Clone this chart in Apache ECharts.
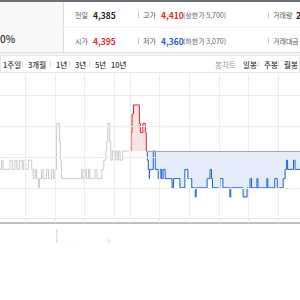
<!DOCTYPE html>
<html><head><meta charset="utf-8">
<script src="https://cdn.jsdelivr.net/npm/echarts@6/dist/echarts.min.js"></script>
<style>html,body{margin:0;padding:0;background:#fff}#c{width:300px;height:300px}</style>
</head><body><div id="c"></div>
<script>
// ---- data (minutes since 09:00; previous day 0..390, today starts at 392) ----
const prevTimes  = [129,132,135,149,154,159,163,168,174,177,181,186,193,196,200,203,207,209,213,216,223,227,233,237,240,243,244,249,251,253,294,297,301,304,308,311,321,325,335,339,343,345,347,351,353,356,360,363,366,369,372,377,390];
const prevPrices = [4375,4380,4375,4380,4375,4380,4375,4380,4375,4380,4375,4380,4375,4370,4375,4370,4365,4370,4375,4370,4375,4370,4375,4370,4375,4390,4400,4390,4380,4370,4375,4370,4375,4370,4375,4370,4375,4370,4375,4380,4385,4390,4400,4390,4380,4385,4380,4385,4380,4385,4380,4385,4385];
const todayTimes  = [392,394,396,399,411,413,418,423,425,427,429,431,432,439,443,449,453,456,459,463,477,480,493,503,509,517,524,526,548,554,557,559,574,580,594,596,621,629,635,638,649,651,669,671,685,690,702,706,709,711,723,726,736];
const todayPrices = [4385,4395,4405,4410,4400,4395,4400,4395,4385,4380,4375,4370,4375,4385,4375,4370,4375,4370,4375,4370,4365,4370,4365,4375,4370,4365,4360,4365,4370,4375,4370,4365,4370,4365,4360,4365,4360,4365,4370,4365,4370,4365,4370,4365,4370,4365,4370,4375,4380,4375,4380,4375,4375];
const prevClose = 4385;
const gridTimes  = [180,240,300,360,392,452,512,572,632,692];
const gridPrices = [4415,4398.3,4381.7,4365,4348.3];
const volTimes  = [244,274,349];
const volValues = [140,10,40];
// header texts
const row1 = {label1:'전일', val1:'4,385', label2:'고가', val2:'4,410', note2:'(상한가 5,700)', label3:'거래량', val3:'2'};
const row2 = {label1:'시가', val1:'4,395', label2:'저가', val2:'4,360', note2:'(하한가 3,070)', label3:'거래대금'};
const changeText = '0%';
const periodTabs = ['1주일','3개월','1년','3년','5년','10년'];
const chartTabs = ['일봉','주봉','월봉'];
const chartTabTitle = '봉차트';

const FONT = '"Noto Sans CJK KR", "Noto Sans", sans-serif';
const RED = '#e4262f', BLUE = '#1f5fd3';
const zip = (a,b)=>a.map((v,i)=>[v,b[i]]);
// split today's line where it first comes back to the previous close
const splitIdx = todayPrices.findIndex((p,i)=>i>0 && p<=prevClose);
const todayUp = zip(todayTimes,todayPrices).slice(0,splitIdx+1);
const todayDown = zip(todayTimes,todayPrices).slice(splitIdx);

const g = [];
function txt(x,y,s,o){g.push({type:'text',x:x,y:y,silent:true,style:Object.assign({text:s,font:'400 7px '+FONT,fill:'#555',textVerticalAlign:'middle',textAlign:'left'},o||{})});}
function rect(x,y,w,h,st){g.push({type:'rect',silent:true,shape:{x:x,y:y,width:w,height:h},style:st});}
function line(x1,y1,x2,y2,c){g.push({type:'line',silent:true,shape:{x1:x1,y1:y1,x2:x2,y2:y2},style:{stroke:c,lineWidth:1}});}

rect(0,0,300,2,{fill:'#6d7079'});
rect(0,2,63,50,{fill:'#f8f8f8'});
line(63.5,2,63.5,52,'#dcdcdc');
line(63,27.5,300,27.5,'#f0f0f0');
line(0,52.5,300,52.5,'#dddddd');
rect(0,53,300,2,{fill:'#f4f4f4'});
rect(0.5,55.5,299,17,{fill:'#fff',stroke:'#e8e8e8',lineWidth:1});
txt(0,38,changeText,{font:'500 10px '+FONT,fill:'#333'});
const boldF = '700 8.5px '+FONT;
[[15,row1],[41,row2]].forEach(([y,r],i)=>{
  txt(75,y,r.label1);
  txt(93,y,r.val1,{font:boldF,fill:i===0?'#222':RED});
  line(138.5,y-3.5,138.5,y+3.5,'#cccccc');
  txt(143,y,r.label2);
  txt(161,y,r.val2,{font:boldF,fill:i===0?RED:BLUE});
  txt(183,y,r.note2,{fill:'#666'});
  line(268.5,y-3.5,268.5,y+3.5,'#cccccc');
  txt(273,y,r.label3);
  if(r.val3) txt(296,y,r.val3,{font:boldF,fill:'#222'});
});
const tabX = [3,28,56,75,95,111];
periodTabs.forEach((s,i)=>{
  txt(tabX[i],64,s,{font:'500 7.5px '+FONT,fill:'#333'});
  if(i<periodTabs.length-1) line(tabX[i+1]-5.5,61,tabX[i+1]-5.5,67,'#d8d8d8');
});
txt(215,64,chartTabTitle,{font:'400 7.5px '+FONT,fill:'#9a9a9a'});
const ctX=[243,264,284];
chartTabs.forEach((s,i)=>{
  txt(ctX[i],64,s,{font:'500 7.5px '+FONT,fill:'#333'});
  if(i<chartTabs.length-1) line(ctX[i+1]-5.5,61,ctX[i+1]-5.5,67,'#d8d8d8');
});

const xMin = 128.8, xMax = 736.1;
const chart = echarts.init(document.getElementById('c'), null, {renderer:'svg'});
chart.setOption({
  animation:false,
  graphic:g,
  grid:[{left:0,right:0,top:74,height:149},{left:0,right:0,top:224,height:19}],
  xAxis:[
    {type:'value',gridIndex:0,min:xMin,max:xMax,axisLabel:{show:false},axisTick:{show:false},splitLine:{show:false},
     axisLine:{show:true,onZero:false,lineStyle:{color:'#aaaaaa',width:1.5}}},
    {type:'value',gridIndex:1,min:xMin,max:xMax,show:false}
  ],
  yAxis:[
    {type:'value',gridIndex:0,min:4345.9,max:4426.8,show:false,splitLine:{show:false}},
    {type:'value',gridIndex:1,min:0,max:190,show:false}
  ],
  series:[
    {type:'line',name:'prev',data:zip(prevTimes,prevPrices),step:'end',symbol:'none',silent:true,
     lineStyle:{color:'#c9c9c9',width:1},z:2,
     markLine:{silent:true,symbol:'none',label:{show:false},
       lineStyle:{color:'#ececec',width:1,type:'solid'},
       data:gridTimes.map(t=>({xAxis:t})).concat(gridPrices.map(p=>({yAxis:p})))}},
    {type:'line',name:'todayUp',data:todayUp,step:'end',symbol:'none',silent:true,
     lineStyle:{width:1,color:RED},itemStyle:{color:RED},areaStyle:{origin:prevClose,color:'#fbe2e3',opacity:1},z:3},
    {type:'line',name:'todayDown',data:todayDown,step:'end',symbol:'none',silent:true,
     lineStyle:{width:1,color:BLUE},itemStyle:{color:BLUE},areaStyle:{origin:prevClose,color:'#e4ecfa',opacity:1},z:3,
     markLine:{silent:true,symbol:'none',label:{show:false},
       lineStyle:{color:'#a9a9a9',width:1,type:'solid'},
       data:[[{coord:[todayTimes[splitIdx],prevClose]},{coord:[xMax,prevClose]}]]}},
    {type:'bar',name:'vol',xAxisIndex:1,yAxisIndex:1,data:zip(volTimes,volValues),barWidth:1.5,silent:true,
     itemStyle:{color:'#e2e2e2'}}
  ]
});
</script></body></html>
